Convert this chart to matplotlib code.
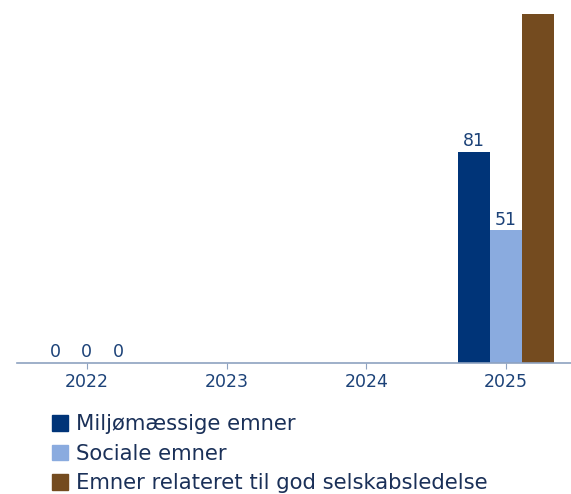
import matplotlib.pyplot as plt
import numpy as np
from matplotlib.patches import Patch

years = ["2022", "2023", "2024", "2025"]
series_names = ["Miljømæssige emner", "Sociale emner", "Emner relateret til god selskabsledelse"]
miljo = [0, None, None, 81]
sociale = [0, None, None, 51]
ledelse = [0, None, None, 134]
colors = ["#003478", "#8aabdf", "#744b1f"]

text_col = "#1a3058"
tick_col = "#1c4278"

fig = plt.figure(figsize=(5.71, 4.94), dpi=100)
ax = fig.add_axes([17/571, 131/494, 554/571, 363/494])
ymax = 363/2.605

x = np.arange(len(years))
w = 32/140
for i, vals in enumerate([miljo, sociale, ledelse]):
    for j, v in enumerate(vals):
        if v is None:
            continue
        xp = x[j] + (i - 1) * w
        ax.bar(xp, v, width=w, color=colors[i], linewidth=0)
        # the label of the tallest bar falls outside the chart area in the original
        if v + 8 < ymax:
            ax.text(xp, v + 0.6, str(v), ha="center", va="bottom",
                    fontsize=12.5, color=tick_col)

ax.set_xlim(-0.5, 3 + 65/140)
ax.set_ylim(0, ymax)
for s in ["top", "right", "left"]:
    ax.spines[s].set_visible(False)
ax.spines["bottom"].set_color("#8ea2c0")
ax.spines["bottom"].set_linewidth(1.2)
ax.set_yticks([])
ax.set_xticks(x)
ax.set_xticklabels(years, fontsize=12.5, color=tick_col)
ax.tick_params(axis="x", length=4, color="#8ea2c0", pad=3)

handles = [Patch(color=c) for c in colors]
fig.legend(handles, series_names, loc="upper left", bbox_to_anchor=(44/571, 1 - 406/494),
           frameon=False, fontsize=15.2, labelcolor=text_col, handlelength=0.75,
           handleheight=0.75, handletextpad=0.35, labelspacing=0.45, borderaxespad=0)

fig.savefig("out.png", dpi=100)
